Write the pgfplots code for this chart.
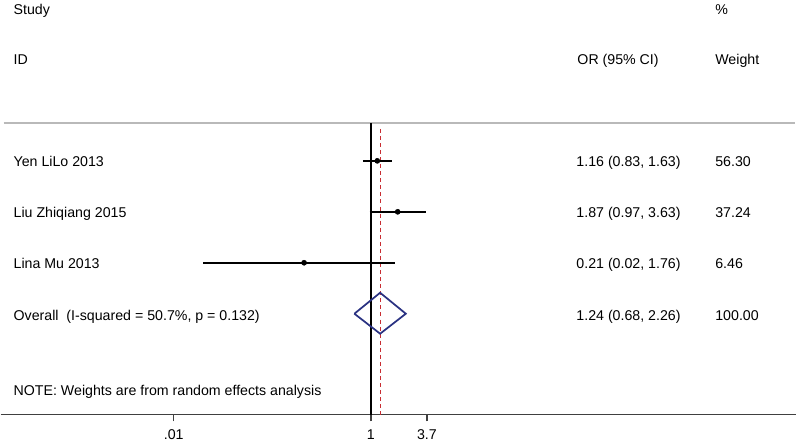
\documentclass[border=0pt]{standalone}
\usepackage{pgfplots}
\pgfplotsset{compat=1.18}
\usepackage{fontspec}
\setmainfont{Liberation Sans}
\definecolor{diamondblue}{RGB}{42,50,130}
\definecolor{refred}{RGB}{200,45,50}
% position in pixels of the 800x444 reference (x from left, y from top)
\newcommand{\pos}[2]{(rel axis cs:{#1/796},{(415-#2)/415})}
\begin{document}
\begin{tikzpicture}[font=\fontsize{10.65}{12.8}\selectfont]
\begin{axis}[
  width=597pt, height=311.25pt, scale only axis,
  xmode=log, xmin=1.762e-4, xmax=2.046e4,
  ymin=0, ymax=415,
  axis x line=bottom, axis y line=none,
  x axis line style={-, black!75, line width=1.1pt},
  xtick={0.01,1,3.7}, xticklabels={.01,1,3.7},
  minor xtick={},
  tick align=outside, major tick length=5pt,
  tick style={black!75, line width=1.1pt},
  xticklabel style={yshift=-3pt},
  clip=false,
]
% invisible frame: full picture size
\path \pos{0}{0} rectangle \pos{800}{444};
% header rule
\draw[gray!55, line width=1.1pt] \pos{3}{123} -- \pos{795}{123};

% line of no effect and overall estimate
\addplot[black, line width=1.2pt] coordinates {(1,292) (1,0)};
\addplot[refred, line width=0.75pt, dash pattern=on 3pt off 2.3pt] coordinates {(1.24,286) (1.24,0)};

% confidence intervals
\addplot[black, line width=1.3pt] coordinates {(0.83,254) (1.63,254)};
\addplot[black, line width=1.3pt] coordinates {(0.97,203) (3.63,203)};
\addplot[black, line width=1.3pt] coordinates {(0.02,152) (1.76,152)};
% point estimates
\addplot[only marks, mark=*, mark size=1.9pt, black] coordinates {
  (1.16,254) (1.87,203) (0.21,152)
};
% pooled estimate
\addplot[diamondblue, line width=1.3pt] coordinates {
  (0.68,101) (1.24,122) (2.26,101) (1.24,81) (0.68,101)
};

\begin{scope}[every node/.style={anchor=base west, inner sep=0pt}]
\node at \pos{12.7}{15} {Study};
\node at \pos{715}{15} {\%};
\node at \pos{12.7}{65} {ID};
\node at \pos{577}{65} {OR (95\% CI)};
\node at \pos{715}{65} {Weight};
\node at \pos{12.7}{167} {Yen LiLo 2013};
\node at \pos{576}{167} {1.16 (0.83, 1.63)};
\node at \pos{715}{167} {56.30};
\node at \pos{12.7}{218} {Liu Zhiqiang 2015};
\node at \pos{576}{218} {1.87 (0.97, 3.63)};
\node at \pos{715}{218} {37.24};
\node at \pos{12.7}{269} {Lina Mu 2013};
\node at \pos{576}{269} {0.21 (0.02, 1.76)};
\node at \pos{715}{269} {6.46};
\node at \pos{12.7}{321} {Overall~~(I-squared = 50.7\%, p = 0.132)};
\node at \pos{576}{321} {1.24 (0.68, 2.26)};
\node at \pos{715}{321} {100.00};
\node at \pos{12.7}{396} {NOTE: Weights are from random effects analysis};
\end{scope}
\end{axis}
\end{tikzpicture}
\end{document}
